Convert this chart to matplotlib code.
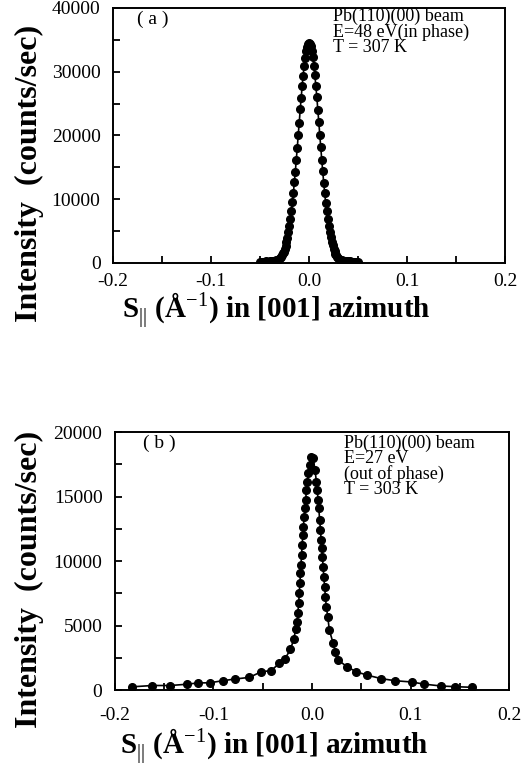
import numpy as np
import matplotlib
matplotlib.use("Agg")
import matplotlib.pyplot as plt
from matplotlib.ticker import MultipleLocator

plt.rcParams['font.family'] = ['Liberation Serif', 'DejaVu Serif']
plt.rcParams['mathtext.fontset'] = 'custom'
plt.rcParams['mathtext.rm'] = 'Liberation Serif'
plt.rcParams['mathtext.bf'] = 'Liberation Serif:bold'

# panel (a): Pb(110)(00) beam, E=48 eV (in phase), T=307 K
sa = [-0.050, -0.048, -0.046, -0.044, -0.042, -0.040, -0.038, -0.036, -0.034, -0.032,
      -0.030, -0.029, -0.028, -0.027, -0.026, -0.025, -0.024, -0.023, -0.022, -0.021,
      -0.020, -0.019, -0.018, -0.017, -0.016, -0.015, -0.014, -0.013, -0.012, -0.011,
      -0.010, -0.009, -0.008, -0.007, -0.006, -0.005, -0.004, -0.003, -0.002, -0.001,
      0.000, 0.001, 0.002, 0.003, 0.004, 0.005, 0.006, 0.007, 0.008, 0.009,
      0.010, 0.011, 0.012, 0.013, 0.014, 0.015, 0.016, 0.017, 0.018, 0.019,
      0.020, 0.021, 0.022, 0.023, 0.024, 0.025, 0.026, 0.027, 0.028, 0.029,
      0.030, 0.032, 0.034, 0.036, 0.038, 0.040, 0.042, 0.044, 0.046, 0.048, 0.050]
Ia = [210, 220, 200, 240, 230, 260, 280, 330, 400, 540,
      790, 950, 1190, 1500, 1790, 2250, 2700, 3360, 3980, 4880,
      5760, 6930, 8080, 9550, 10920, 12650, 14290, 16230, 18050, 20120,
      22000, 24080, 25880, 27800, 29370, 30950, 32150, 33300, 33900, 34350,
      34550, 34400, 34020, 33180, 32250, 30860, 29480, 27690, 25990, 23960,
      22110, 20010, 18150, 16140, 14390, 12560, 11010, 9430, 8160, 6860,
      5840, 4830, 4070, 3290, 2750, 2190, 1830, 1440, 1200, 940,
      800, 530, 420, 340, 290, 250, 260, 230, 210, 220, 200]

# panel (b): Pb(110)(00) beam, E=27 eV (out of phase), T=303 K
sb = [-0.1824, -0.1620, -0.1438, -0.1269, -0.1157, -0.1039, -0.0907, -0.0785, -0.0636, -0.0514,
      -0.0416, -0.0331, -0.0277, -0.0219, -0.0185, -0.0166, -0.0152, -0.0143, -0.0136, -0.0129,
      -0.0123, -0.0117, -0.0112, -0.0106, -0.0100, -0.0093, -0.0087, -0.0080, -0.0073, -0.0065,
      -0.0056, -0.0047, -0.0037, -0.0025, -0.0010, 0.0012, 0.0030, 0.0045, 0.0053, 0.0062,
      0.0069, 0.0078, 0.0086, 0.0093, 0.0099, 0.0106, 0.0113, 0.0120, 0.0128, 0.0136,
      0.0145, 0.0160, 0.0176, 0.0213, 0.0237, 0.0264, 0.0355, 0.0447, 0.0558, 0.0704,
      0.0847, 0.1015, 0.1134, 0.1314, 0.1456, 0.1624]
Ib = [250, 350, 350, 450, 550, 560, 720, 850, 980, 1420,
      1500, 2070, 2380, 3150, 3930, 4700, 5300, 5940, 6720, 7490,
      8270, 9040, 9690, 10460, 11240, 12010, 12660, 13430, 14080, 14730,
      15500, 16150, 16790, 17440, 18030, 18000, 17050, 16150, 15500, 14730,
      14080, 13170, 12400, 11630, 10980, 10330, 9560, 8780, 8010, 7240,
      6460, 5680, 4650, 3670, 2970, 2330, 1810, 1420, 1160, 880,
      720, 620, 460, 310, 260, 210]

xticks = [-0.2, -0.1, 0.0, 0.1, 0.2]
xticklabels = ['-0.2', '-0.1', '0.0', '0.1', '0.2']

xlab = r'S$_{||}$ (Å$^{-1}$) in [001] azimuth'
ylab = 'Intensity  (counts/sec)'

fig = plt.figure(figsize=(5.22, 7.69), dpi=100)
axa = fig.add_axes([0.2165, 0.658, 0.751, 0.3316])
axb = fig.add_axes([0.2203, 0.1027, 0.7548, 0.3355])


def style(ax, ymax, ymaj, ymin):
    ax.set_xlim(-0.2, 0.2)
    ax.set_ylim(0, ymax)
    ax.set_xticks(xticks)
    ax.set_xticklabels(xticklabels)
    ax.xaxis.set_minor_locator(MultipleLocator(0.05))
    ax.yaxis.set_major_locator(MultipleLocator(ymaj))
    ax.yaxis.set_minor_locator(MultipleLocator(ymin))
    ax.tick_params(which='both', direction='in', length=5, width=1.3,
                   top=False, right=False, labelsize=14)
    ax.tick_params(axis='y', pad=9)
    for sp in ax.spines.values():
        sp.set_linewidth(1.4)
    ax.set_xlabel(xlab, fontsize=21, fontweight='bold')
    ax.set_ylabel(ylab, fontsize=23, fontweight='bold')


axa.plot(sa, Ia, '-', color='black', lw=1.2)
axa.plot(sa, Ia, 'o', color='black', ms=5.5)
style(axa, 40000, 10000, 5000)
axa.tick_params(axis='x', pad=7)
axa.xaxis.set_label_coords(0.416, -0.105)
axa.yaxis.set_label_coords(-0.175, 0.35)
axa.text(0.06, 0.955, '( a )', transform=axa.transAxes, fontsize=14, va='center')
axa.text(0.56, 1.0, 'Pb(110)(00) beam\nE=48 eV(in phase)\nT = 307 K',
         transform=axa.transAxes, fontsize=13, va='top', linespacing=0.86)

axb.plot(sb, Ib, '-', color='black', lw=1.2)
axb.plot(sb, Ib, 'o', color='black', ms=5.5)
style(axb, 20000, 5000, 2500)
axb.tick_params(axis='x', pad=12)
axb.xaxis.set_label_coords(0.404, -0.14)
axb.yaxis.set_label_coords(-0.18, 0.43)
axb.text(0.07, 0.955, '( b )', transform=axb.transAxes, fontsize=14, va='center')
axb.text(0.58, 0.99, 'Pb(110)(00) beam\nE=27 eV\n(out of phase)\nT = 303 K',
         transform=axb.transAxes, fontsize=13, va='top', linespacing=0.86)

fig.savefig('out.png', dpi=100)
